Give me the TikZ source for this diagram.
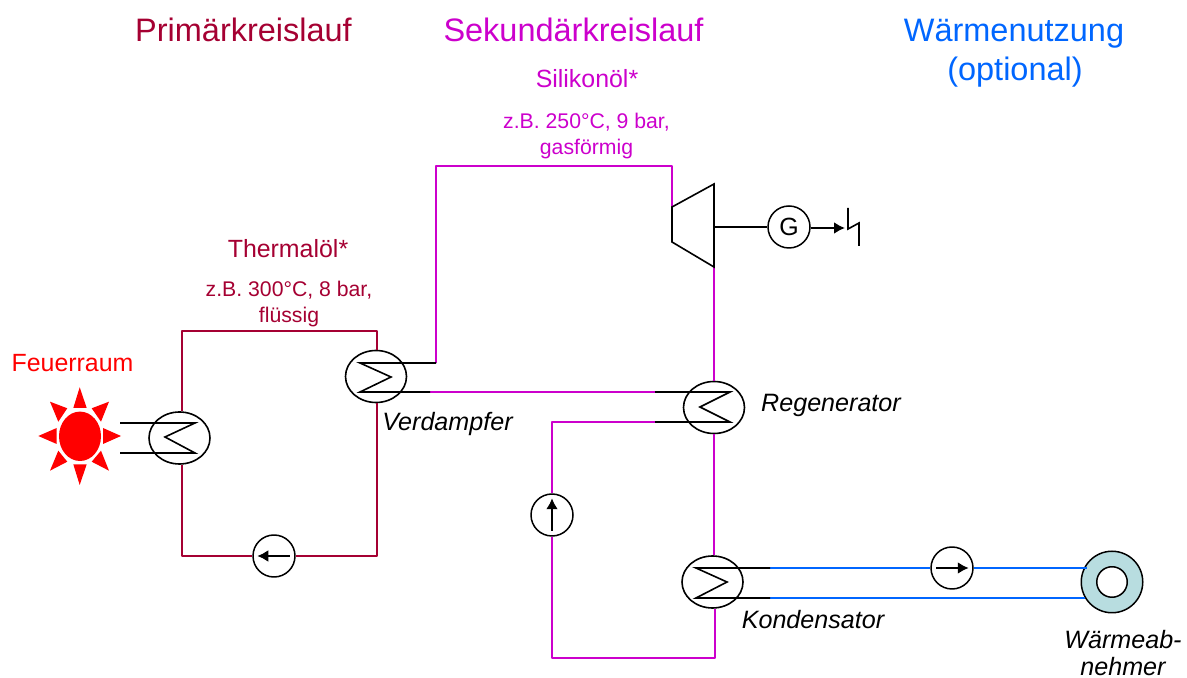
\documentclass[tikz,border=0pt]{standalone}
\usepackage{fontspec}
\usetikzlibrary{shapes.geometric,arrows.meta}
\setmainfont{Liberation Sans}
\definecolor{primcol}{RGB}{165,0,50}
\definecolor{seccol}{RGB}{204,0,204}
\definecolor{usecol}{RGB}{0,102,255}
\definecolor{ringcol}{RGB}{184,221,224}
\tikzset{
  hxbox/.style={draw,ellipse,line width=1.6bp,minimum width=61bp,minimum height=52bp,inner sep=0pt},
  pumpbox/.style={draw,circle,line width=1.5bp,minimum size=42bp,inner sep=0pt,fill=white},
  tube/.style={line width=1.6bp,line join=miter},
  prim/.style={line width=1.6bp,draw=primcol},
  sec/.style={line width=1.6bp,draw=seccol},
  use/.style={line width=1.6bp,draw=usecol},
  flow/.style={-{Latex[length=11bp,width=12bp]},line width=2.6bp},
  lbl/.style={anchor=base,inner sep=0pt,align=center},
  tag/.style={lbl,font=\fontsize{25.2}{25.2}\selectfont\itshape},
}
\begin{document}
\begin{tikzpicture}[>=latex,line join=bevel,]
    \useasboundingbox (0bp,0bp) rectangle (1187bp,678bp);
    %% titles
    \node (t1) at (243.5bp,636.5bp) [lbl,text=primcol,font=\fontsize{32.6}{32.6}\selectfont] {Primärkreislauf};
    \node (t2) at (573.5bp,636.5bp) [lbl,text=seccol,font=\fontsize{32.6}{32.6}\selectfont] {Sekundärkreislauf};
    \node (t3) at (1014bp,636.5bp) [lbl,text=usecol,font=\fontsize{32.6}{32.6}\selectfont] {Wärmenutzung};
    \node (t4) at (1015bp,597.5bp) [lbl,text=usecol,font=\fontsize{32.6}{32.6}\selectfont] {(optional)};
    \node (s1) at (587bp,590bp) [lbl,text=seccol,font=\fontsize{25}{25}\selectfont] {Silikonöl*};
    \node (s2) at (586.5bp,549bp) [lbl,text=seccol,font=\fontsize{21.3}{21.3}\selectfont] {z.B. 250°C, 9 bar,};
    \node (s3) at (586.5bp,523bp) [lbl,text=seccol,font=\fontsize{21.3}{21.3}\selectfont] {gasförmig};
    \node (p1) at (288bp,420bp) [lbl,text=primcol,font=\fontsize{25}{25}\selectfont] {Thermalöl*};
    \node (p2) at (289bp,381bp) [lbl,text=primcol,font=\fontsize{21.3}{21.3}\selectfont] {z.B. 300°C, 8 bar,};
    \node (p3) at (289bp,355bp) [lbl,text=primcol,font=\fontsize{21.3}{21.3}\selectfont] {flüssig};
    \node (feuer) at (72.5bp,306bp) [lbl,text=red,font=\fontsize{25}{25}\selectfont] {Feuerraum};
    \node (l1) at (447.5bp,247bp) [tag] {Verdampfer};
    \node (l2) at (831bp,266bp) [tag] {Regenerator};
    \node (l3) at (813bp,49bp) [tag] {Kondensator};
    \node (l4) at (1123bp,30bp) [tag] {Wärmeab-};
    \node (l5) at (1123bp,3bp) [tag] {nehmer};
    %% fire
    \node (sun) at (80bp,241.7bp) [fill=red,ellipse,minimum width=42bp,minimum height=49.4bp,inner sep=0pt] {};
    \foreach \ax/\ay/\bx/\by/\cx/\cy in {79.7/290.7/73.3/270/86.7/270, 79.7/193/73.3/213.7/86.7/213.7,
        38.3/242/56.7/250/56.7/234, 121/242/103/250/103/234, 50/276.3/58.3/256.3/67.3/269.7,
        109/276.3/91.7/269.7/101/256.3, 50/207.3/58.3/227.3/67.3/216.3, 109/207.3/101/227.3/91.7/216.3}
      \fill[red] (\ax bp,\ay bp) -- (\bx bp,\by bp) -- (\cx bp,\cy bp) -- cycle;
    %% heat exchangers
    \node (hxa) at (179.5bp,240bp) [hxbox] {};
    \node (hxb) at (376bp,301.5bp) [hxbox] {};
    \node (hxc) at (714bp,270.5bp) [hxbox] {};
    \node (hxd) at (712.5bp,96bp) [hxbox] {};
    %% pumps, generator, consumer
    \node (pa) at (274bp,122bp) [pumpbox] {};
    \node (pb) at (552bp,163bp) [pumpbox] {};
    \node (pc) at (952bp,110bp) [pumpbox] {};
    \node (gen) at (789bp,451bp) [pumpbox,font=\fontsize{25}{25}\selectfont] {G};
    \node (ring) at (1112bp,96bp) [draw,circle,line width=1.5bp,fill=ringcol,minimum size=61.5bp,inner sep=0pt] {};
    \node (hole) at (1112bp,96bp) [draw,circle,line width=1.5bp,fill=white,minimum size=30.5bp,inner sep=0pt] {};
    %% points on the lines
    \coordinate (a1) at (120bp,255bp);
    \coordinate (a2) at (195bp,255bp);
    \coordinate (a3) at (165bp,241bp);
    \coordinate (a4) at (195bp,225bp);
    \coordinate (a5) at (120bp,225bp);
    \coordinate (b1) at (436bp,315bp);
    \coordinate (b2) at (360bp,315bp);
    \coordinate (b3) at (391bp,301bp);
    \coordinate (b4) at (360bp,286bp);
    \coordinate (b5) at (430bp,286bp);
    \coordinate (c1) at (655bp,286bp);
    \coordinate (c2) at (730bp,286bp);
    \coordinate (c3) at (700bp,271bp);
    \coordinate (c4) at (730bp,256bp);
    \coordinate (c5) at (655bp,256bp);
    \coordinate (d1) at (770bp,110bp);
    \coordinate (d2) at (696bp,110bp);
    \coordinate (d3) at (727bp,96bp);
    \coordinate (d4) at (696bp,80bp);
    \coordinate (d5) at (770bp,80bp);
    \coordinate (ptl) at (182bp,347bp);
    \coordinate (ptr) at (377bp,347bp);
    \coordinate (pbl) at (182bp,122bp);
    \coordinate (pbr) at (377bp,122bp);
    \coordinate (stl) at (436bp,512bp);
    \coordinate (str) at (672bp,512bp);
    \coordinate (sml) at (552bp,256bp);
    \coordinate (sbl) at (552bp,20bp);
    \coordinate (sbr) at (715bp,20bp);
    \coordinate (ua) at (1087bp,110bp);
    \coordinate (ub) at (1085bp,80bp);
    \coordinate (bolt) at (845bp,450bp);
    \coordinate (ta) at (672bp,471bp);
    \coordinate (tb) at (714bp,494bp);
    \coordinate (tc) at (714bp,411bp);
    \coordinate (td) at (672bp,436bp);
    \coordinate (te) at (714bp,451bp);
    \coordinate (za) at (848bp,470bp);
    \coordinate (zb) at (848bp,449bp);
    \coordinate (zc) at (859bp,455bp);
    \coordinate (zd) at (859bp,432bp);
    %% primary loop
    \draw [prim] (ptl |- hxa.north) -- (ptl) -- (ptr) -- (ptr |- hxb.north);
    \draw [prim] (ptl |- hxa.south) -- (pbl) -- (pa);
    \draw [prim] (pa) -- (pbr) -- (ptr |- hxb.south);
    %% secondary loop
    \draw [sec] (b1) -- (stl) -- (str) -- (ta);
    \draw [sec] (b5) -- (c1);
    \draw [sec] (c5) -- (sml) -- (pb);
    \draw [sec] (pb) -- (sbl) -- (sbr) -- (sbr |- hxd.south);
    \draw [sec] (tc) -- (tc |- hxc.north);
    \draw [sec] (tc |- hxc.south) -- (tc |- hxd.north);
    %% heat use
    \draw [use] (d1) -- (pc.west);
    \draw [use] (pc.east) -- (ua);
    \draw [use] (d5) -- (ub);
    %% tubes
    \draw [tube] (a1) -- (a2) -- (a3) -- (a4) -- (a5);
    \draw [tube] (b1) -- (b2) -- (b3) -- (b4) -- (b5);
    \draw [tube] (c1) -- (c2) -- (c3) -- (c4) -- (c5);
    \draw [tube] (d1) -- (d2) -- (d3) -- (d4) -- (d5);
    %% arrows in the pumps
    \draw [flow] ([xshift=-6bp]pa.east) -- ([xshift=5bp]pa.west);
    \draw [flow] ([yshift=6bp]pb.south) -- ([yshift=-5bp]pb.north);
    \draw [flow] ([xshift=6bp]pc.west) -- ([xshift=-5bp]pc.east);
    %% turbine and generator
    \draw [tube] (ta) -- (tb) -- (tc) -- (td) -- cycle;
    \draw [tube] (te) -- (gen);
    \draw [flow] (gen.east |- bolt) -- (bolt);
    \draw [tube] (za) -- (zb) -- (zc) -- (zd);
\end{tikzpicture}
\end{document}
